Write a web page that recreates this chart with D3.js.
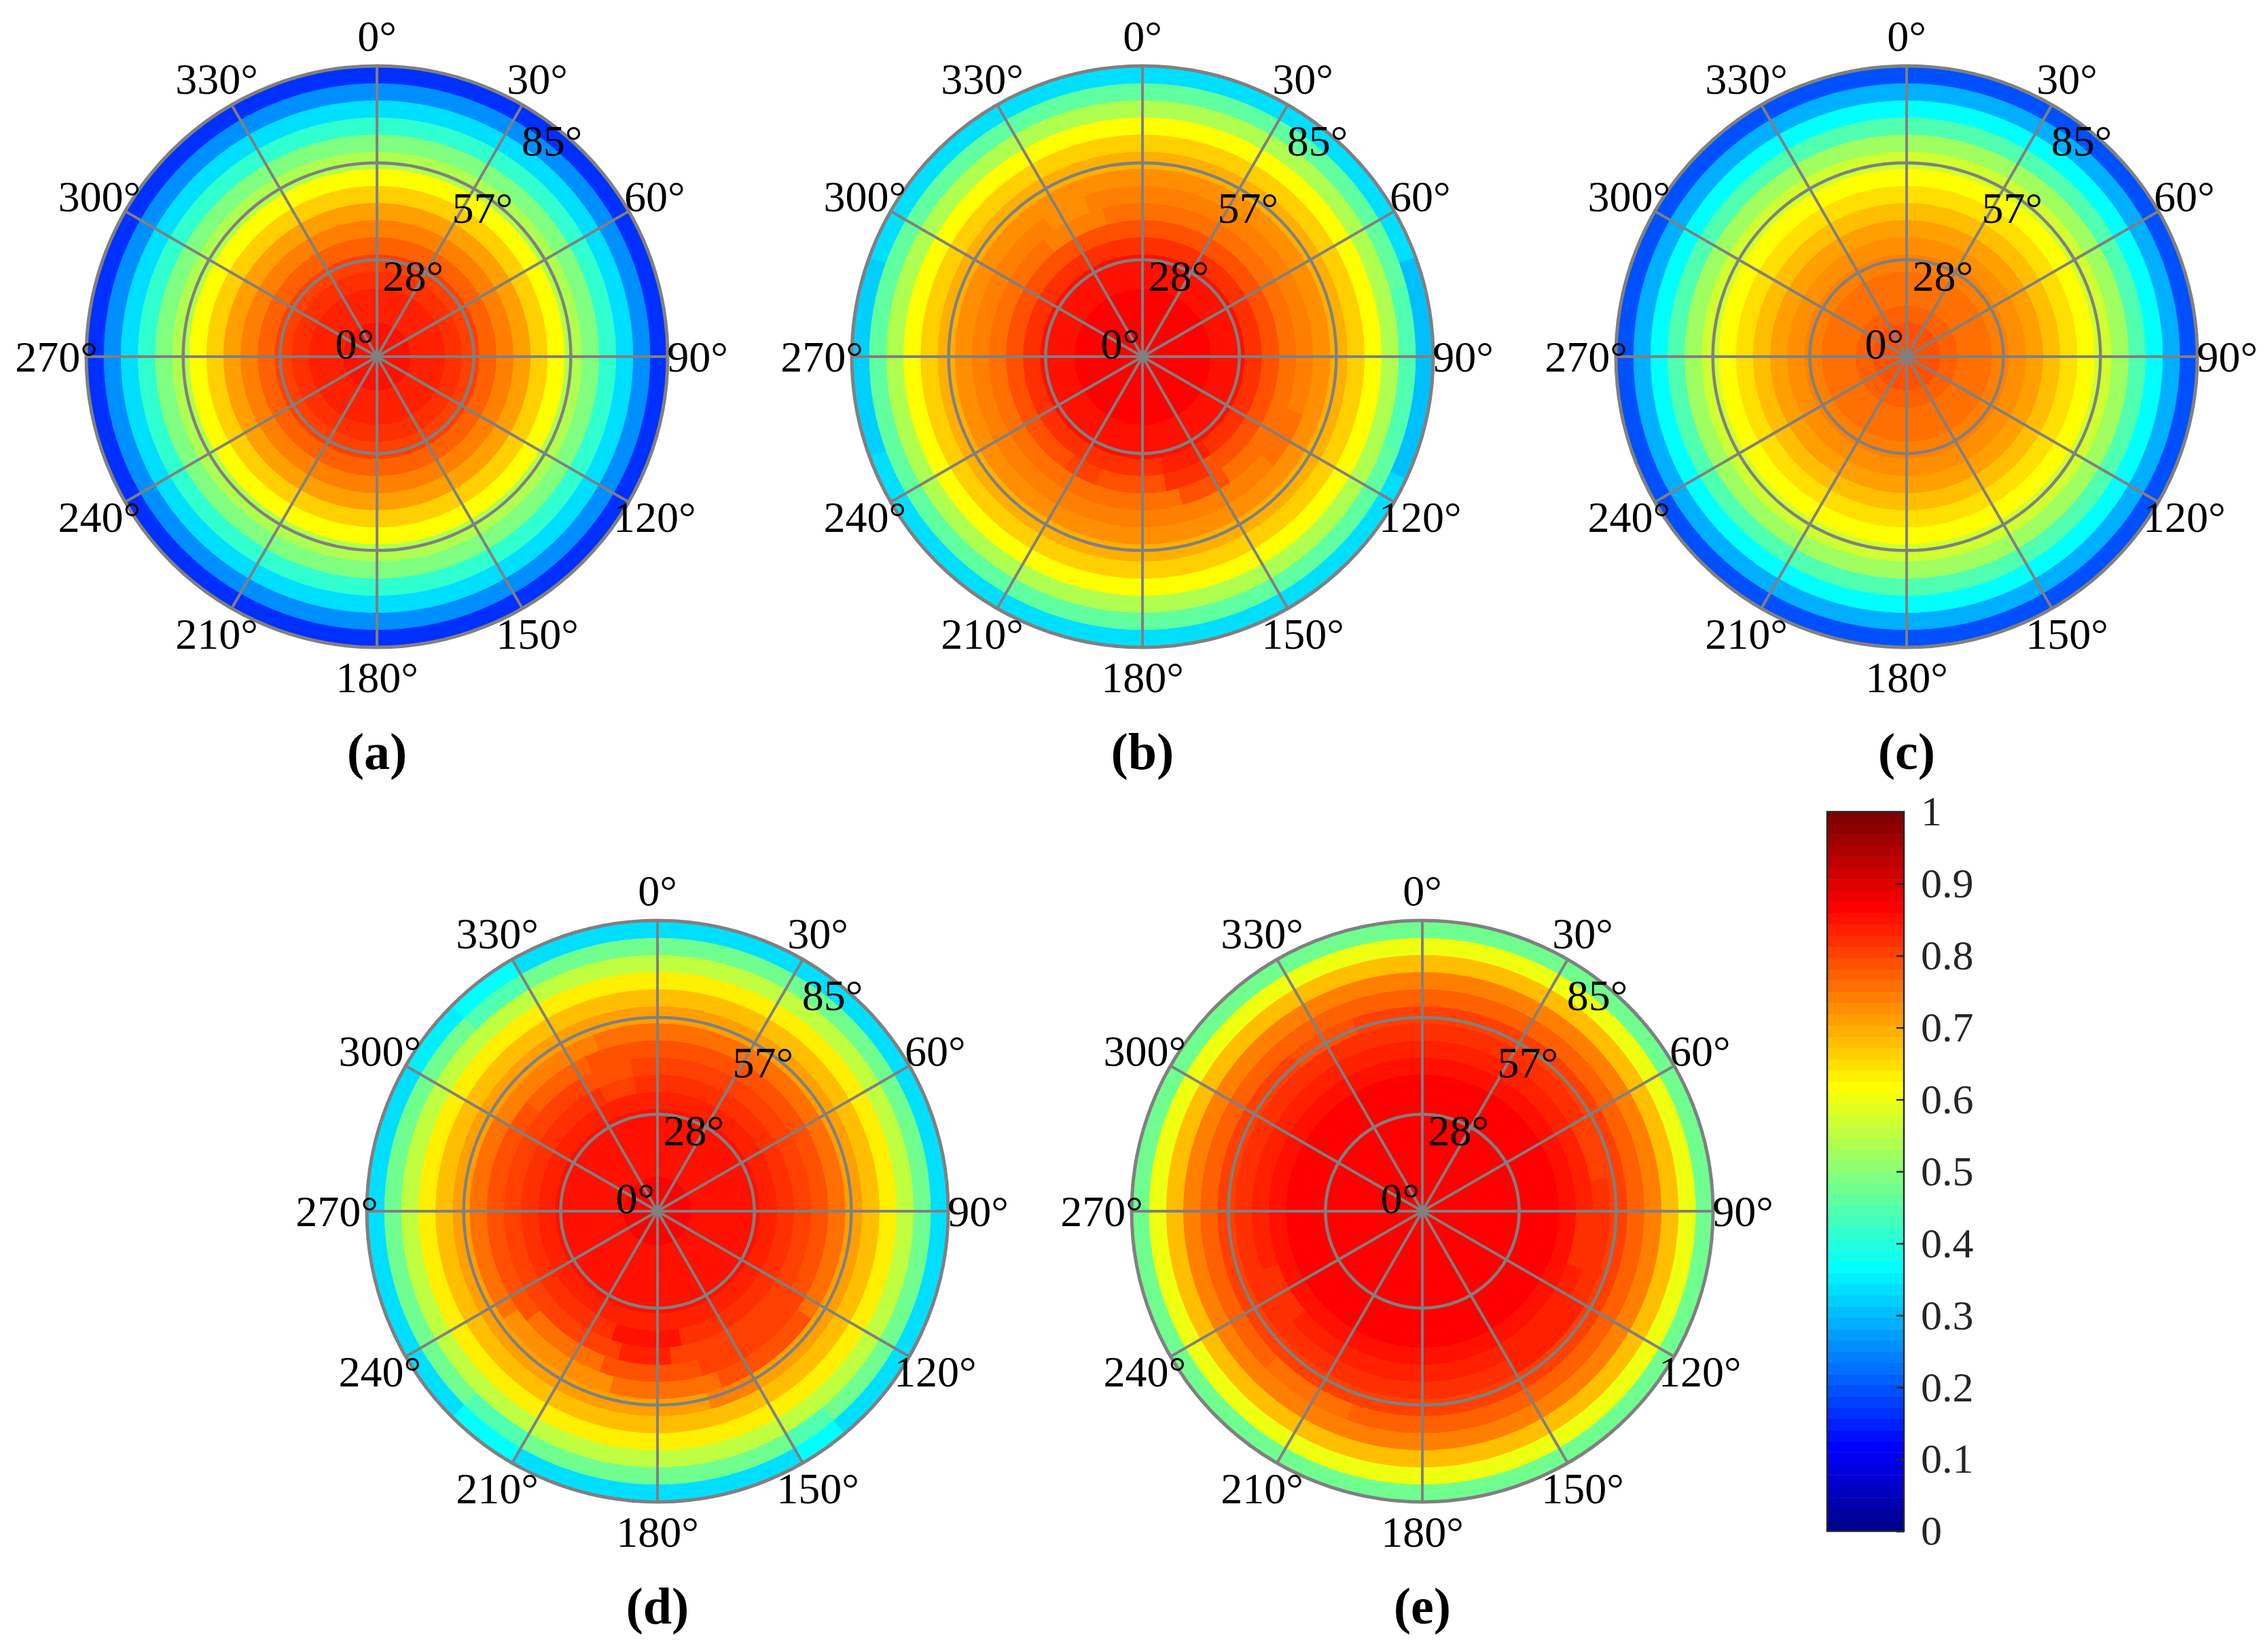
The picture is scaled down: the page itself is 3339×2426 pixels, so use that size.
<!DOCTYPE html>
<html>
<head>
<meta charset="utf-8">
<script src="https://cdn.jsdelivr.net/npm/d3@7"></script>
<style>
  body { margin: 0; background: #fff; }
  text { font-family: "Liberation Serif", "DejaVu Serif", serif; }
</style>
</head>
<body>
<div id="chart"></div>
<script>
// zenith bins (5 deg rings, 0..85) and azimuth bins (5 deg sectors)
var ringEdges = d3.range(0, 90, 5);
var sectorEdges = d3.range(0, 365, 5);
var rTicks = [0, 85 / 3, 170 / 3, 85];
var thetaTicks = d3.range(0, 360, 30);
var cbTicks = d3.range(0, 1.0001, 0.1);

// ring values, inner (0-5 deg) to outer (80-85 deg)
var ringA = [0.855, 0.85, 0.84, 0.83, 0.82, 0.80, 0.77, 0.74, 0.71, 0.66, 0.61, 0.54, 0.49, 0.41, 0.33, 0.26, 0.16];
var ringB = [0.865, 0.865, 0.865, 0.865, 0.855, 0.85, 0.82, 0.785, 0.755, 0.74, 0.72, 0.70, 0.66, 0.62, 0.54, 0.46, 0.33];
var ringC = [0.79, 0.785, 0.775, 0.765, 0.75, 0.74, 0.725, 0.71, 0.68, 0.65, 0.62, 0.57, 0.52, 0.45, 0.365, 0.285, 0.195];
var ringD = [0.86, 0.86, 0.855, 0.855, 0.85, 0.845, 0.835, 0.82, 0.80, 0.785, 0.755, 0.71, 0.68, 0.63, 0.555, 0.475, 0.335];
var ringE = [0.865, 0.865, 0.865, 0.865, 0.865, 0.865, 0.865, 0.865, 0.85, 0.84, 0.82, 0.80, 0.77, 0.74, 0.68, 0.60, 0.475];

// cells that differ from the ring value: [azimuth from, azimuth to, ring index, value]
var patchB = [
    [70, 115, 16, 0.31], [250, 290, 16, 0.315], [75, 110, 15, 0.44],
    [150, 170, 7, 0.82], [145, 165, 8, 0.785], [200, 215, 7, 0.80],
    [145, 170, 6, 0.84], [320, 345, 8, 0.74], [325, 340, 9, 0.72],
    [110, 130, 9, 0.755]
];
var patchD = [
    [315, 330, 16, 0.37], [210, 225, 16, 0.37], [140, 150, 16, 0.37], [300, 315, 16, 0.35],
    [315, 330, 15, 0.44], [210, 225, 15, 0.44], [140, 150, 15, 0.44],
    [120, 165, 9, 0.81], [125, 160, 10, 0.785], [150, 165, 11, 0.74],
    [195, 235, 10, 0.72], [200, 230, 9, 0.755], [300, 340, 10, 0.74], [310, 335, 9, 0.77],
    [330, 350, 8, 0.785], [335, 350, 7, 0.80], [170, 200, 7, 0.845], [175, 195, 8, 0.835]
];
var patchE = [
    [60, 80, 10, 0.80], [200, 225, 12, 0.75], [120, 150, 10, 0.84],
    [320, 340, 11, 0.785], [90, 110, 9, 0.82], [230, 250, 9, 0.82]
];

var W = 3339, H = 2426, R = 428;
var panels = [
    {label: "(a)", cx: 555,  cy: 525,  ring: ringA, patch: []},
    {label: "(b)", cx: 1682, cy: 525,  ring: ringB, patch: patchB},
    {label: "(c)", cx: 2807, cy: 525,  ring: ringC, patch: []},
    {label: "(d)", cx: 968,  cy: 1783, ring: ringD, patch: patchD},
    {label: "(e)", cx: 2094, cy: 1783, ring: ringE, patch: patchE}
];

// MATLAB jet(64)
function jet(m) {
    var n = Math.ceil(m / 4), u = [], i;
    for (i = 1; i <= n; i++) u.push(i / n);
    for (i = 1; i < n; i++) u.push(1);
    for (i = n; i >= 1; i--) u.push(i / n);
    var g0 = Math.ceil(n / 2) - (m % 4 === 1 ? 1 : 0);
    var r = d3.range(m).map(function () { return 0; }), g = r.slice(), b = r.slice();
    u.forEach(function (v, k) {
        var gi = g0 + k + 1, ri = gi + n, bi = gi - n;
        if (gi >= 1 && gi <= m) g[gi - 1] = v;
        if (ri >= 1 && ri <= m) r[ri - 1] = v;
        if (bi >= 1 && bi <= m) b[bi - 1] = v;
    });
    return d3.range(m).map(function (k) { return d3.rgb(r[k] * 255, g[k] * 255, b[k] * 255).formatHex(); });
}
var jet64 = jet(64);
var colour = d3.scaleQuantize().domain([0, 1]).range(jet64);

var svg = d3.select("#chart").append("svg")
    .attr("width", W)
    .attr("height", H);

var rScale = d3.scaleLinear().domain([0, 85]).range([0, R]);
var rad = Math.PI / 180;
var arc = d3.arc()
    .innerRadius(function (d) { return rScale(d.r0); })
    .outerRadius(function (d) { return rScale(d.r1); })
    .startAngle(function (d) { return d.t0 * rad; })
    .endAngle(function (d) { return d.t1 * rad; });

var rLabelAngle = 45.7 * rad;

panels.forEach(function (p) {
    var cells = [];
    for (var s = 0; s < sectorEdges.length - 1; s++) {
        for (var j = 0; j < ringEdges.length - 1; j++) {
            var t0 = sectorEdges[s], t1 = sectorEdges[s + 1];
            var v = p.ring[j];
            p.patch.forEach(function (q) {
                if (q[2] === j && t0 >= q[0] && t1 <= q[1]) v = q[3];
            });
            cells.push({t0: t0, t1: t1, r0: ringEdges[j], r1: ringEdges[j + 1], v: v});
        }
    }

    var g = svg.append("g").attr("transform", "translate(" + p.cx + "," + p.cy + ")");

    g.selectAll(".cell")
        .data(cells)
        .enter().append("path")
        .attr("class", "cell")
        .attr("d", arc)
        .attr("fill", function (d) { return colour(d.v); })
        .attr("stroke", function (d) { return colour(d.v); })
        .attr("stroke-width", 1);

    // grid circles
    g.selectAll(".rgrid")
        .data(rTicks.slice(1, 3))
        .enter().append("circle")
        .attr("r", function (d) { return rScale(d); })
        .attr("fill", "none")
        .attr("stroke", "#808080")
        .attr("stroke-width", 4.5);

    // spokes
    g.selectAll(".spoke")
        .data(thetaTicks)
        .enter().append("line")
        .attr("x1", 0).attr("y1", 0)
        .attr("x2", function (d) { return R * Math.sin(d * rad); })
        .attr("y2", function (d) { return -R * Math.cos(d * rad); })
        .attr("stroke", "#808080")
        .attr("stroke-width", 4);

    g.append("circle")
        .attr("r", R)
        .attr("fill", "none")
        .attr("stroke", "#808080")
        .attr("stroke-width", 5);

    // theta labels
    g.selectAll(".tlab")
        .data(thetaTicks)
        .enter().append("text")
        .attr("x", function (d) { return (R + 44) * Math.sin(d * rad); })
        .attr("y", function (d) { return -(R + 44) * Math.cos(d * rad); })
        .attr("text-anchor", "middle")
        .attr("dominant-baseline", "central")
        .attr("font-size", 64)
        .attr("fill", "#000")
        .text(function (d) { return d + "°"; });

    // r labels
    g.selectAll(".rlab")
        .data(rTicks)
        .enter().append("text")
        .attr("x", function (d) { return rScale(d) * Math.sin(rLabelAngle) - 4; })
        .attr("y", function (d) { return -rScale(d) * Math.cos(rLabelAngle) - 19; })
        .attr("text-anchor", "end")
        .attr("dominant-baseline", "central")
        .attr("font-size", 64)
        .attr("fill", "#000")
        .text(function (d) { return d3.format(".0f")(d) + "°"; });

    svg.append("text")
        .attr("x", p.cx)
        .attr("y", p.cy + 607)
        .attr("text-anchor", "middle")
        .attr("font-size", 76)
        .attr("font-weight", "bold")
        .attr("fill", "#000")
        .text(p.label);
});

// colorbar
var cbX = 2690, cbW = 113;
var cScale = d3.scaleLinear().domain([0, 1]).range([2254, 1195]);
var cb = svg.append("g");
cb.selectAll(".cbstep")
    .data(jet64)
    .enter().append("rect")
    .attr("x", cbX)
    .attr("y", function (d, i) { return cScale((i + 1) / 64); })
    .attr("width", cbW)
    .attr("height", function (d, i) { return cScale(i / 64) - cScale((i + 1) / 64) + 0.5; })
    .attr("fill", function (d) { return d; });

cb.append("rect")
    .attr("x", cbX).attr("y", cScale(1))
    .attr("width", cbW).attr("height", cScale(0) - cScale(1))
    .attr("fill", "none")
    .attr("stroke", "#262626")
    .attr("stroke-width", 2.5);

var cbAxis = cb.append("g")
    .attr("class", "axisc")
    .attr("transform", "translate(" + (cbX + cbW) + ",0)")
    .call(d3.axisRight(cScale)
        .tickValues(cbTicks)
        .tickSize(-11)
        .tickPadding(25)
        .tickFormat(d3.format(".1~f")));
cbAxis.select(".domain").remove();
cbAxis.selectAll("line").attr("stroke", "#262626").attr("stroke-width", 2.5);
cbAxis.selectAll("text")
    .attr("font-size", 62)
    .attr("fill", "#262626");
</script>
</body>
</html>
